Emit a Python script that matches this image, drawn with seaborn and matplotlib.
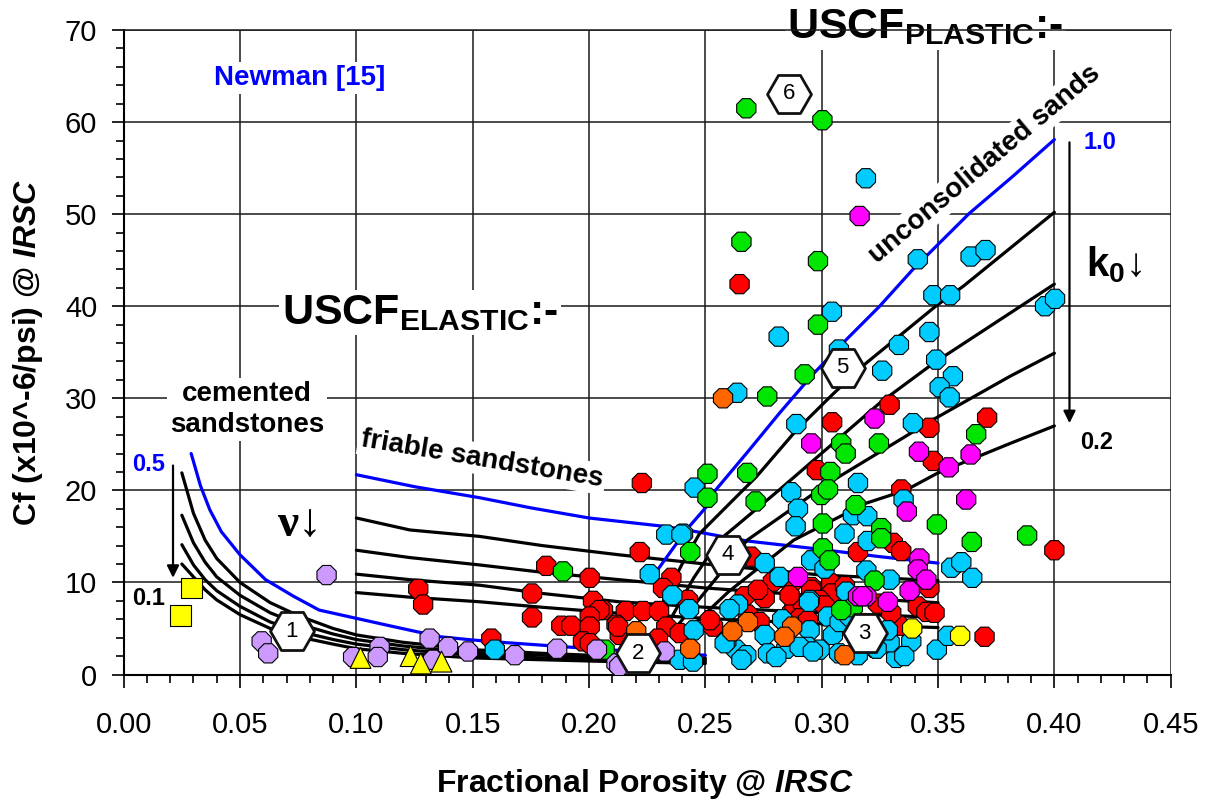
import numpy as np
import pandas as pd
import matplotlib
matplotlib.use("Agg")
import matplotlib.pyplot as plt
import seaborn as sns
from matplotlib.ticker import MultipleLocator, FormatStrFormatter

# ---------------- data ----------------
# cemented sandstones (USCF elastic), nu = 0.5 (blue) ... 0.1
cem_blue_x = [0.029, 0.033, 0.037, 0.042, 0.05, 0.061, 0.073, 0.084, 0.10, 0.116, 0.136, 0.15, 0.165, 0.179, 0.193, 0.22, 0.25]
cem_blue_y = [24.0, 20.5, 17.9, 15.5, 13.0, 10.3, 8.5, 7.0, 6.1, 5.2, 4.1, 3.75, 3.45, 3.2, 2.95, 2.5, 2.1]
cem_x = [0.025, 0.03, 0.035, 0.04, 0.05, 0.063, 0.075, 0.09, 0.10, 0.12, 0.15, 0.18, 0.21, 0.25]
cem_y1 = [21.9, 17.5, 14.6, 12.6, 10.0, 7.8, 6.4, 5.0, 4.3, 3.5, 2.7, 2.3, 2.0, 1.8]
cem_y2 = [17.3, 14.3, 12.2, 10.6, 8.6, 6.7, 5.5, 4.4, 3.8, 3.1, 2.4, 2.1, 1.8, 1.6]
cem_y3 = [14.1, 11.9, 10.3, 9.1, 7.4, 5.7, 4.7, 3.8, 3.3, 2.7, 2.1, 1.8, 1.6, 1.4]
cem_y4 = [12.0, 10.6, 9.2, 8.1, 6.5, 5.0, 4.1, 3.3, 2.8, 2.3, 1.8, 1.6, 1.4, 1.2]

# friable sandstones
fri_blue_x = [0.10, 0.125, 0.153, 0.175, 0.20, 0.232, 0.242, 0.268, 0.296, 0.325, 0.35]
fri_blue_y = [21.7, 20.4, 19.2, 18.1, 17.0, 16.1, 15.7, 14.5, 13.7, 12.8, 12.1]
fri_x = [0.10, 0.123, 0.153, 0.18, 0.213, 0.25, 0.30, 0.35]
fri_y1 = [17.0, 15.7, 15.0, 14.0, 13.0, 12.0, 10.8, 10.2]
fri_y2 = [13.5, 12.7, 11.9, 11.1, 10.3, 9.4, 8.5, 7.8]
fri_y3 = [10.9, 10.3, 9.7, 8.8, 7.9, 7.3, 6.7, 6.2]
fri_y4 = [8.9, 8.4, 7.9, 7.3, 6.65, 6.1, 5.5, 5.1]

# unconsolidated sands (USCF plastic), k0 = 1.0 (blue) ... 0.2
pla_blue_x = [0.229, 0.2418, 0.2504, 0.2533, 0.2676, 0.2819, 0.2962, 0.3091, 0.3249, 0.3392, 0.3635, 0.3821, 0.40]
pla_blue_y = [11.2, 15.7, 18.2, 19.7, 24.0, 28.4, 32.6, 36.0, 40.0, 44.0, 50.1, 54.1, 58.1]
pla1_x = [0.232, 0.240, 0.2475, 0.272, 0.289, 0.305, 0.319, 0.349, 0.361, 0.40]
pla1_y = [8.0, 12.0, 15.3, 21.5, 26.5, 30.5, 33.8, 40.0, 42.2, 50.2]
pla2_x = [0.235, 0.245, 0.256, 0.282, 0.325, 0.348, 0.40]
pla2_y = [6.0, 10.5, 14.6, 20.1, 29.5, 33.8, 42.4]
pla3_x = [0.237, 0.250, 0.268, 0.303, 0.348, 0.381, 0.40]
pla3_y = [5.0, 9.0, 14.6, 20.8, 27.7, 32.4, 34.9]
pla4_x = [0.239, 0.260, 0.288, 0.319, 0.336, 0.35, 0.381, 0.40]
pla4_y = [4.0, 9.0, 14.6, 18.6, 20.0, 21.9, 25.1, 27.0]

# measured points
red_x = [0.2647, 0.3292, 0.3045, 0.3463, 0.3711, 0.3478, 0.2979, 0.3342, 0.400, 0.3306, 0.3342, 0.3156,
         0.3463, 0.3413, 0.345, 0.3485, 0.3335, 0.370, 0.3041, 0.3041, 0.2955, 0.2919, 0.3241, 0.3299,
         0.2218, 0.2697, 0.279, 0.2354, 0.2318, 0.2425, 0.206, 0.2158, 0.2232, 0.2301, 0.2669, 0.2755,
         0.2683, 0.2733, 0.2533, 0.2118, 0.2132, 0.2332, 0.239, 0.2296, 0.2873, 0.2227, 0.1816, 0.2003,
         0.1755, 0.1755, 0.1881, 0.1924, 0.2017, 0.2045, 0.2003, 0.2003, 0.1974, 0.2003, 0.158, 0.2125,
         0.1266, 0.1287, 0.2884, 0.2919, 0.2955, 0.2905, 0.2941, 0.2726, 0.2869, 0.2991, 0.3012, 0.2519,
         0.2862, 0.3070, 0.3100]
red_y = [42.4, 29.3, 27.4, 26.8, 27.9, 23.2, 22.2, 20.1, 13.5, 14.3, 13.4, 13.3,
         9.4, 7.4, 6.8, 6.7, 5.3, 4.1, 9.9, 8.8, 9.5, 7.2, 7.7, 6.7,
         13.3, 12.8, 10.1, 10.5, 9.4, 8.1, 7.0, 6.9, 6.9, 6.9, 8.5, 8.3,
         6.5, 5.7, 5.2, 5.4, 4.3, 5.2, 4.5, 3.9, 6.8, 20.8, 11.8, 10.5,
         8.8, 6.2, 5.3, 5.3, 8.0, 7.0, 6.3, 5.2, 3.6, 3.4, 3.9, 5.2,
         9.3, 7.6, 7.4, 7.7, 9.2, 6.1, 5.9, 9.2, 9.9, 8.1, 7.5, 5.9,
         8.6, 6.0, 9.6]

cyan_x = [0.319, 0.3413, 0.364, 0.3704, 0.348, 0.3552, 0.396, 0.4003, 0.3044, 0.2815, 0.3332, 0.3463,
          0.3492, 0.3564, 0.326, 0.3074, 0.3507, 0.355, 0.2637, 0.2891, 0.3392, 0.2454, 0.2869, 0.3156,
          0.3352, 0.2898, 0.2888, 0.3134, 0.3196, 0.3098, 0.2404, 0.3198, 0.3557, 0.36, 0.3647, 0.3192,
          0.3292, 0.3385, 0.332, 0.3495, 0.3542, 0.2955, 0.3012, 0.3106, 0.2948, 0.3027, 0.3048, 0.3077,
          0.2948, 0.2941, 0.2991, 0.3292, 0.2332, 0.2397, 0.2261, 0.2755, 0.2819, 0.2358, 0.243, 0.264,
          0.2604, 0.2755, 0.2633, 0.2676, 0.2769, 0.259, 0.245, 0.239, 0.2447, 0.2945, 0.2848, 0.2905,
          0.2962, 0.1595, 0.2583, 0.3284, 0.3227, 0.3355, 0.2655, 0.2805, 0.3075, 0.3155, 0.3236, 0.3120,
          0.2830, 0.3180]
cyan_y = [53.9, 45.1, 45.4, 46.1, 41.2, 41.2, 40.0, 40.8, 39.4, 36.7, 35.8, 37.2,
          34.2, 32.4, 33.0, 35.3, 31.2, 30.1, 30.6, 27.2, 27.3, 20.3, 19.8, 20.8,
          19.0, 18.0, 16.1, 17.3, 17.2, 15.3, 15.3, 14.5, 11.6, 12.2, 10.5, 11.3,
          10.3, 3.6, 1.8, 2.7, 4.2, 12.4, 11.5, 9.0, 8.1, 6.3, 4.3, 5.7,
          4.8, 3.0, 2.7, 3.5, 15.2, 15.2, 10.9, 12.1, 10.6, 8.6, 7.1, 7.6,
          7.1, 4.3, 2.7, 2.1, 2.3, 3.6, 4.8, 1.6, 1.4, 7.9, 2.8, 3.0,
          2.5, 2.7, 3.4, 4.8, 2.9, 2.0, 1.6, 1.9, 2.3, 2.1, 2.8, 6.3,
          6.0, 5.5]

green_x = [0.2676, 0.3003, 0.2655, 0.2984, 0.2984, 0.2927, 0.2766, 0.3664, 0.3084, 0.3103, 0.3246, 0.2509,
           0.268, 0.3037, 0.2509, 0.2716, 0.2998, 0.3027, 0.3495, 0.3005, 0.3146, 0.3256, 0.3883, 0.3645,
           0.3256, 0.3005, 0.3034, 0.3227, 0.3134, 0.3084, 0.2435, 0.1888, 0.2067]
green_y = [61.5, 60.2, 47.0, 44.9, 38.0, 32.6, 30.2, 26.1, 25.1, 24.0, 25.1, 21.8,
           21.9, 22.0, 19.2, 18.8, 19.5, 20.1, 16.3, 16.4, 18.4, 15.9, 15.1, 14.4,
           14.8, 13.7, 12.4, 10.2, 7.3, 7.0, 13.3, 11.2, 2.7]

magenta_x = [0.3163, 0.3227, 0.2955, 0.3418, 0.3546, 0.364, 0.3366, 0.3621, 0.342, 0.3413, 0.345, 0.3378,
             0.3284, 0.3192, 0.3156, 0.2898, 0.3175]
magenta_y = [49.8, 27.8, 25.1, 24.2, 22.5, 23.9, 17.7, 19.0, 12.6, 11.4, 10.3, 9.1,
             7.9, 8.5, 8.5, 10.6, 8.5]

orange_x = [0.2576, 0.2683, 0.2616, 0.2435, 0.2203, 0.2873, 0.284, 0.3098]
orange_y = [30.0, 5.7, 4.7, 2.8, 4.7, 5.2, 4.1, 2.1]

lavender_x = [0.0872, 0.0593, 0.0621, 0.0986, 0.11, 0.1092, 0.1315, 0.1394, 0.148, 0.133, 0.1681, 0.1863,
              0.2034, 0.2325, 0.2118, 0.2130]
lavender_y = [10.8, 3.6, 2.3, 1.9, 3.0, 1.9, 3.9, 3.0, 2.5, 1.6, 2.1, 2.8,
              2.7, 2.5, 1.2, 0.9]

ysq_x = [0.0292, 0.0245]
ysq_y = [9.4, 6.4]
ytri_x = [0.1018, 0.1233, 0.1277, 0.1366]
ytri_y = [1.8, 2.0, 1.2, 1.4]
ycirc_x = [0.3389, 0.3595]
ycirc_y = [5.0, 4.2]

hex_labels = ["1", "2", "3", "4", "5", "6"]
hex_x = [0.0722, 0.221, 0.3184, 0.2597, 0.309, 0.286]
hex_y = [4.7, 2.3, 4.5, 13.0, 33.3, 63.1]

# ---------------- style ----------------
sns.set_theme(style="white")
plt.rcParams['font.family'] = ['Liberation Sans', 'DejaVu Sans']
plt.rcParams['mathtext.fontset'] = 'custom'
plt.rcParams['mathtext.rm'] = 'Liberation Sans'
plt.rcParams['mathtext.bf'] = 'Liberation Sans:bold'
plt.rcParams['mathtext.it'] = 'Liberation Sans:italic:bold'
plt.rcParams['text.color'] = 'black'
plt.rcParams['axes.labelcolor'] = 'black'
plt.rcParams['xtick.color'] = 'black'
plt.rcParams['ytick.color'] = 'black'

fig = plt.figure(figsize=(12.21, 8.05), dpi=100)
ax = fig.add_axes([0.1013, 0.1621, 0.8575, 0.8006])

BLUE = "#0000FF"
LW = 2.3

def curve(x, y, color):
    d = pd.DataFrame({"x": x, "y": y})
    sns.lineplot(data=d, x="x", y="y", ax=ax, color=color, lw=LW, sort=False,
                 estimator=None, zorder=2, legend=False)

for yy in (cem_y4, cem_y3, cem_y2, cem_y1):
    curve(cem_x[:len(yy)], yy, "black")
curve(cem_blue_x, cem_blue_y, BLUE)
for yy in (fri_y4, fri_y3, fri_y2, fri_y1):
    curve(fri_x, yy, "black")
curve(fri_blue_x, fri_blue_y, BLUE)
for xx, yy in ((pla4_x, pla4_y), (pla3_x, pla3_y), (pla2_x, pla2_y), (pla1_x, pla1_y)):
    curve(xx, yy, "black")
curve(pla_blue_x, pla_blue_y, BLUE)

groups = [("red", red_x, red_y), ("cyan", cyan_x, cyan_y), ("green", green_x, green_y),
          ("magenta", magenta_x, magenta_y), ("orange", orange_x, orange_y),
          ("lavender", lavender_x, lavender_y), ("ysq", ysq_x, ysq_y),
          ("ytri", ytri_x, ytri_y), ("ycirc", ycirc_x, ycirc_y)]
df = pd.concat([pd.DataFrame({"x": gx, "y": gy, "g": g}) for g, gx, gy in groups], ignore_index=True)
palette = {"red": "#FF0000", "cyan": "#00CCFF", "green": "#00E600", "magenta": "#FF00FF",
           "orange": "#FF6600", "lavender": "#CC99FF", "ysq": "#FFFF00", "ytri": "#FFFF00",
           "ycirc": "#FFFF00"}
markers = {"red": "8", "cyan": "8", "green": "8", "magenta": "8", "orange": "8",
           "lavender": "8", "ysq": "s", "ytri": "^", "ycirc": "8"}
sns.scatterplot(data=df, x="x", y="y", hue="g", style="g", palette=palette, markers=markers,
                s=225, edgecolor="black", linewidth=0.8, ax=ax, legend=False, zorder=3)

# hexagon tags
ax.scatter(hex_x, hex_y, marker="H", s=1000, facecolor="white", edgecolor="#111111",
           linewidths=2.0, zorder=5)
for t, hx, hy in zip(hex_labels, hex_x, hex_y):
    ax.text(hx, hy, t, ha="center", va="center", fontsize=16, color="black", zorder=6)

# axes
ax.set_xlim(0, 0.45)
ax.set_ylim(0, 70)
ax.xaxis.set_major_locator(MultipleLocator(0.05))
ax.xaxis.set_minor_locator(MultipleLocator(0.01))
ax.yaxis.set_major_locator(MultipleLocator(10))
ax.yaxis.set_minor_locator(MultipleLocator(2))
ax.xaxis.set_major_formatter(FormatStrFormatter("%.2f"))
ax.grid(True, which="major", color="#1a1a1a", lw=1.1)
ax.set_axisbelow(True)
ax.spines["right"].set_visible(False)
ax.spines["top"].set_color("#1a1a1a")
ax.spines["top"].set_linewidth(1.1)
for s in ("left", "bottom"):
    ax.spines[s].set_color("black")
    ax.spines[s].set_linewidth(1.5)
ax.tick_params(which="major", direction="out", length=9, width=1.2, color="black",
               labelsize=21, labelcolor="black")
ax.tick_params(which="minor", direction="out", length=6, width=1.2, color="black")
ax.tick_params(axis="x", which="both", bottom=True, pad=17)
ax.tick_params(axis="y", which="both", left=True, pad=10)

ax.set_xlabel(r"Fractional Porosity @ $\mathit{IRSC}$", fontsize=23, fontweight="bold", color="black")
ax.set_ylabel(r"Cf (x10^-6/psi) @ $\mathit{IRSC}$", fontsize=23, fontweight="bold", color="black")
ax.xaxis.label.set_va("center")
ax.yaxis.label.set_va("center")
ax.xaxis.set_label_coords(0.498, -0.17)
ax.yaxis.set_label_coords(-0.0914, 0.5)

wbox = dict(facecolor="white", edgecolor="none", pad=2)
ax.text(0.0757, 64.8, "Newman [15]", color=BLUE, fontsize=20, fontweight="bold",
        ha="center", va="center", bbox=wbox, zorder=1)
ax.text(0.1273, 39.3, r"USCF$_{\mathbf{ELASTIC}}$:-", fontsize=31, fontweight="bold",
        color="black", ha="center", va="center", bbox=wbox, zorder=1)
ax.text(0.3446, 70.3, r"USCF$_{\mathbf{PLASTIC}}$:-", fontsize=31, fontweight="bold",
        color="black", ha="center", va="center", bbox=wbox, zorder=1)
ax.text(0.053, 28.8, "cemented\nsandstones", fontsize=20, fontweight="bold", color="black",
        ha="center", va="center", linespacing=1.25, bbox=wbox, zorder=1)
ax.text(0.154, 23.4, "friable sandstones", fontsize=20, fontweight="bold", rotation=-9.5,
        color="black", ha="center", va="center", bbox=wbox, zorder=1, rotation_mode="anchor")
ax.text(0.370, 55.4, "unconsolidated sands", fontsize=20, fontweight="bold", rotation=40,
        color="black", ha="center", va="center", bbox=wbox, zorder=1, rotation_mode="anchor")
ax.text(0.0105, 22.8, "0.5", color=BLUE, fontsize=17, fontweight="bold", ha="center", va="center")
ax.text(0.0105, 8.3, "0.1", color="black", fontsize=17, fontweight="bold", ha="center", va="center")
ax.text(0.4194, 57.8, "1.0", color=BLUE, fontsize=17, fontweight="bold", ha="center", va="center")
ax.text(0.4182, 25.2, "0.2", color="black", fontsize=17, fontweight="bold", ha="center", va="center")
ax.text(0.0757, 16.2, "ν↓", fontsize=34, fontweight="bold", color="black", ha="center", va="center",
        family=["Liberation Serif", "DejaVu Serif"])
ax.text(0.4258, 44.5, r"k$_\mathbf{0}$↓", fontsize=29, fontweight="bold", color="black",
        ha="center", va="center")

ax.annotate("", xy=(0.0212, 10.2), xytext=(0.0212, 23.0),
            arrowprops=dict(arrowstyle="-|>", color="black", lw=1.6, mutation_scale=18))
ax.annotate("", xy=(0.4065, 27.0), xytext=(0.4065, 58.1),
            arrowprops=dict(arrowstyle="-|>", color="black", lw=1.6, mutation_scale=18))

fig.savefig("out.png", dpi=100)
